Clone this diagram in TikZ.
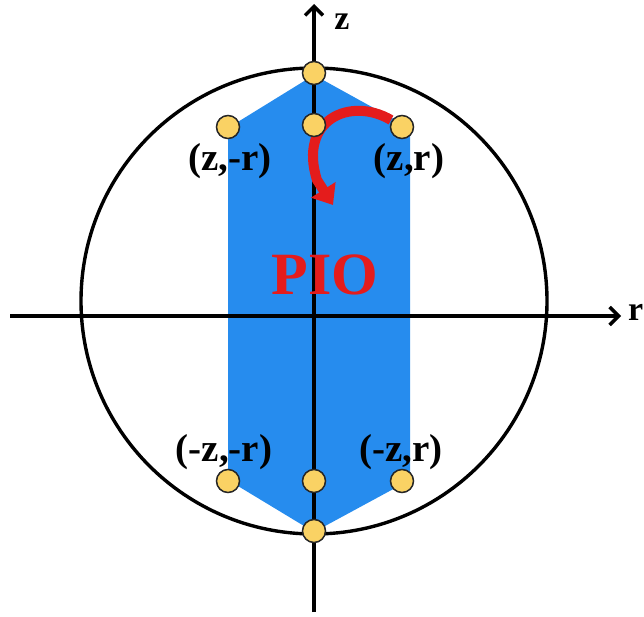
\documentclass[tikz,border=0pt]{standalone}
\usepackage{fontspec}
\setmainfont{Liberation Serif}
\usetikzlibrary{arrows.meta}
\definecolor{pioblue}{RGB}{38,140,238}
\definecolor{dotyellow}{RGB}{250,210,100}
\definecolor{piored}{RGB}{228,28,28}
\begin{document}
\begin{tikzpicture}[x=1pt,y=-1pt,
  axis/.style={line width=3.4pt,-{Straight Barb[length=9pt,width=18pt,line width=3.4pt]}},
  dot/.style={circle,draw=black!85,line width=1.5pt,fill=dotyellow,minimum size=23pt,inner sep=0pt},
  lab/.style={font=\fontsize{39}{39}\selectfont\bfseries,inner sep=0pt},
  piotext/.style={font=\fontsize{60}{60}\selectfont\bfseries,inner sep=0pt}]
\useasboundingbox (0,0) rectangle (644,617);
% blue region
\fill[pioblue] (314,75) -- (410,128) -- (410,480) -- (314,532) -- (228,480) -- (228,128) -- cycle;
% circle
\draw[line width=3.4pt] (314,301) circle[radius=233];
% axes
\coordinate (rs) at (10,316);
\coordinate (re) at (621,316);
\coordinate (zs) at (314,612);
\coordinate (ze) at (314,4);
\draw[axis] (rs) -- (re);
\draw[axis] (zs) -- (ze);
\node[font=\fontsize{34}{34}\selectfont\bfseries,anchor=west,inner sep=0pt] (rl) at (628,312) {r};
\node[font=\fontsize{34}{34}\selectfont\bfseries,inner sep=0pt] (zl) at (342,22) {z};
% PIO
\node[piotext,text=piored] (pio) at (325,275) {PIO};
% red arrow
\coordinate (as) at (391,120);
\coordinate (ae) at (333,205);
\draw[piored,line width=10pt,-{Triangle[length=18pt,width=28pt]}] (as) .. controls (350,96) and (298,120) .. (317,180) -- (ae);
% dots
\node[dot] (t0) at (314,73) {};
\node[dot] (t1) at (228,127) {};
\node[dot] (t2) at (314,125) {};
\node[dot] (t3) at (402,127) {};
\node[dot] (b1) at (228,481) {};
\node[dot] (b2) at (314,481) {};
\node[dot] (b3) at (402,481) {};
\node[dot] (b0) at (314,531) {};
% labels
\node[lab] (l1) at (230,161) {(z,-r)};
\node[lab] (l2) at (409,161) {(z,r)};
\node[lab] (l3) at (224,452) {(-z,-r)};
\node[lab] (l4) at (401,452) {(-z,r)};
\end{tikzpicture}
\end{document}
